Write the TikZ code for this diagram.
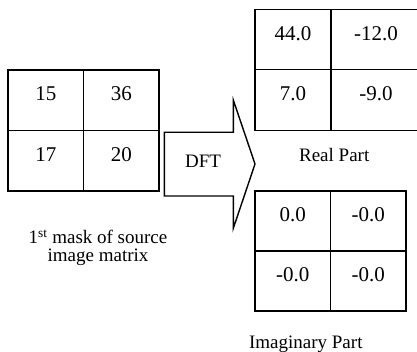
\documentclass[tikz,border=0pt]{standalone}
\usepackage{fontspec}
\setmainfont{Liberation Serif}
\begin{document}
\begin{tikzpicture}[x=1pt,y=-1pt,
  cell/.style={draw, line width=1.4pt, inner sep=0pt,
    text height=14.2pt, text depth=13pt, font=\fontsize{21}{24}\selectfont},
  lbl/.style={inner sep=0pt, anchor=base, font=\fontsize{19}{18}\selectfont, align=center},
  arrowshape/.style={draw, line width=1.4pt, line join=miter}]
\useasboundingbox (0,0) rectangle (417,352);
\clip (0,0) rectangle (417,352);
% source matrix
\begin{scope}[every node/.append style={minimum width=75.5pt, minimum height=60.5pt}]
\node[cell] (s11) at (45.75,100.25) {15};
\node[cell] (s12) at (121.25,100.25) {36};
\node[cell] (s21) at (45.75,160.75) {17};
\node[cell] (s22) at (121.25,160.75) {20};
\end{scope}
% real part
\node[cell, minimum width=76pt, minimum height=60.5pt] (r11) at (293,39.5) {44.0};
\node[cell, minimum width=90pt, minimum height=60.5pt] (r12) at (376,39.5) {-12.0};
\node[cell, minimum width=76pt, minimum height=60.5pt] (r21) at (293,100) {7.0};
\node[cell, minimum width=90pt, minimum height=60.5pt] (r22) at (376,100) {-9.0};
% imaginary part
\begin{scope}[every node/.append style={minimum width=75.5pt, minimum height=60pt}]
\node[cell] (i11) at (292.75,221) {0.0};
\node[cell] (i12) at (368.25,221) {-0.0};
\node[cell] (i21) at (292.75,281) {-0.0};
\node[cell] (i22) at (368.25,281) {-0.0};
\end{scope}
% DFT arrow
\draw[arrowshape] (164.3,132.3) -- (233.3,132.3) -- (233.3,100) -- (255,164)
  -- (233.3,228.3) -- (233.3,196) -- (164.3,196) -- cycle;
\node[lbl] (dft) at (203,167.7) {DFT};
% labels
\node[lbl] (reallbl) at (334.2,161.5) {Real Part};
\node[lbl] (imaglbl) at (305.8,348.5) {Imaginary Part};
\node[lbl] (srclbl) at (98,261.5) {1\textsuperscript{st} mask of source\\image matrix};
\end{tikzpicture}
\end{document}
